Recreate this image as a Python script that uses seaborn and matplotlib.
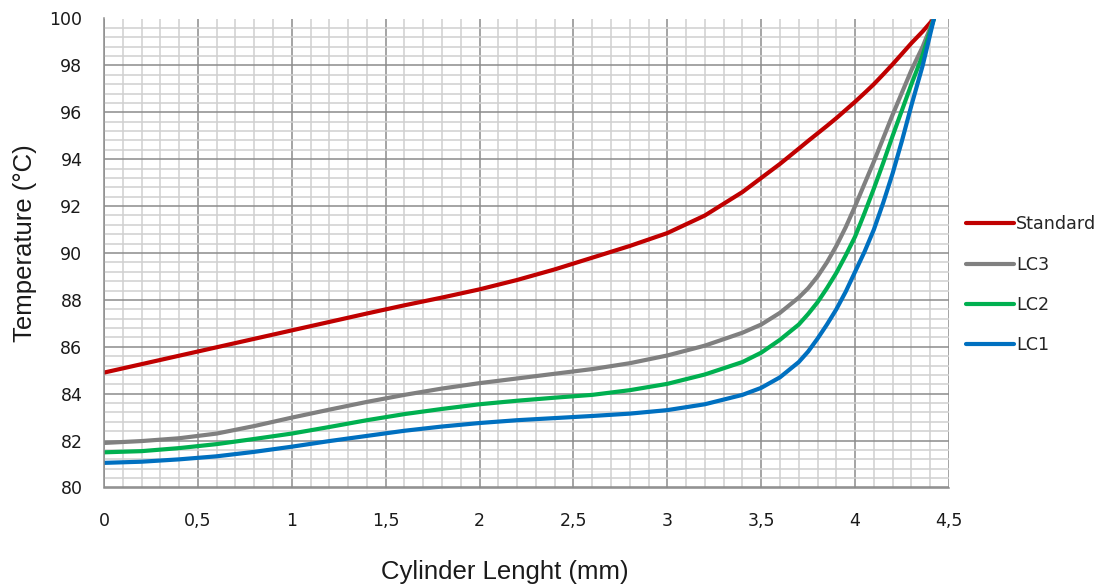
import numpy as np
import pandas as pd
import matplotlib
matplotlib.use("Agg")
import matplotlib.pyplot as plt
from matplotlib.ticker import MultipleLocator, FuncFormatter
import seaborn as sns

# Readings taken off the reference chart
length_mm = [0, 0.2, 0.4, 0.6, 0.8, 1.0, 1.2, 1.4, 1.6, 1.8, 2.0, 2.2, 2.4,
             2.6, 2.8, 3.0, 3.2, 3.4, 3.5, 3.6, 3.7, 3.75, 3.8, 3.85, 3.9,
             3.95, 4.0, 4.05, 4.1, 4.15, 4.2, 4.25, 4.3, 4.36, 4.42]
standard = [84.9, 85.26, 85.62, 85.98, 86.34, 86.7, 87.06, 87.42, 87.77, 88.1,
            88.45, 88.85, 89.3, 89.8, 90.3, 90.85, 91.6, 92.6, 93.2, 93.8,
            94.45, 94.78, 95.1, 95.42, 95.75, 96.1, 96.45, 96.82, 97.2, 97.62,
            98.05, 98.5, 98.95, 99.45, 100.0]
lc3 = [81.9, 81.98, 82.1, 82.3, 82.62, 82.98, 83.32, 83.65, 83.95, 84.22,
       84.45, 84.65, 84.85, 85.05, 85.3, 85.63, 86.05, 86.6, 86.95, 87.45,
       88.1, 88.5, 89.0, 89.6, 90.3, 91.1, 92.0, 92.95, 93.9, 94.9, 95.9,
       96.85, 97.8, 98.8, 100.0]
lc2 = [81.5, 81.55, 81.68, 81.85, 82.07, 82.3, 82.58, 82.87, 83.13, 83.35,
       83.55, 83.7, 83.83, 83.95, 84.15, 84.42, 84.82, 85.35, 85.75, 86.3,
       86.95, 87.4, 87.9, 88.5, 89.15, 89.9, 90.7, 91.7, 92.75, 93.85, 95.0,
       96.1, 97.2, 98.45, 100.0]
lc1 = [81.05, 81.1, 81.2, 81.33, 81.52, 81.74, 81.98, 82.2, 82.42, 82.6,
       82.75, 82.87, 82.96, 83.05, 83.15, 83.3, 83.55, 83.95, 84.25, 84.7,
       85.35, 85.8, 86.35, 86.95, 87.6, 88.35, 89.2, 90.05, 91.0, 92.15,
       93.4, 94.8, 96.3, 98.0, 100.0]

series_names = ["Standard", "LC3", "LC2", "LC1"]
series_colors = ["#C00000", "#808080", "#00B050", "#0070C0"]

# Long-form table for seaborn
df = pd.concat([
    pd.DataFrame({"x": length_mm, "y": vals, "series": name})
    for name, vals in zip(series_names, [standard, lc3, lc2, lc1])
])

sns.set_style("white")
plt.rcParams['font.family'] = ['DejaVu Sans']

fig = plt.figure(figsize=(11.04, 5.86), dpi=100)
ax = fig.add_axes([104 / 1104, 1 - 487.5 / 586, (949 - 104) / 1104, (487.5 - 18.5) / 586])

sns.lineplot(data=df, x="x", y="y", hue="series", hue_order=series_names,
             palette=series_colors, linewidth=3.0, sort=False, ax=ax,
             estimator=None, legend=True)
for line in ax.get_lines():
    line.set_solid_joinstyle("round")
    line.set_solid_capstyle("round")

ax.set_xlim(0, 4.5)
ax.set_ylim(80, 100)
ax.xaxis.set_major_locator(MultipleLocator(0.5))
ax.xaxis.set_minor_locator(MultipleLocator(0.1))
ax.yaxis.set_major_locator(MultipleLocator(2))
ax.yaxis.set_minor_locator(MultipleLocator(0.4))

# Decimal comma on the x axis
ax.xaxis.set_major_formatter(FuncFormatter(lambda v, p: f"{v:g}".replace(".", ",")))

ax.grid(which="major", color="#8c8c8c", linewidth=1.1)
ax.grid(which="minor", color="#d0d0d0", linewidth=1.1)
ax.set_axisbelow(True)

for side in ["top", "right"]:
    ax.spines[side].set_visible(False)
for side in ["left", "bottom"]:
    ax.spines[side].set_color("#8c8c8c")
    ax.spines[side].set_linewidth(1.1)

ax.tick_params(axis="both", which="major", direction="out", length=6,
               width=1.1, color="#8c8c8c", labelsize=12.5, labelcolor="#1a1a1a")
ax.tick_params(axis="x", which="major", pad=12)
ax.tick_params(axis="y", which="major", pad=9.5)
ax.tick_params(which="minor", length=0)

ax.set_xlabel("")
ax.set_ylabel("")
fig.text(505 / 1104, 1 - 572 / 586, "Cylinder Lenght (mm)", ha="center",
         va="center", fontsize=18.5, family="Liberation Sans", color="#1a1a1a")
fig.text(25 / 1104, 1 - 243 / 586, "Temperature (°C)", ha="center",
         va="center", rotation=90, fontsize=18.5, family="Liberation Sans",
         color="#1a1a1a")

handles, labels = ax.get_legend_handles_labels()
leg = ax.legend(handles, labels, loc="center left", bbox_to_anchor=(1.012, 0.432),
                frameon=False, fontsize=12.6, handlelength=2.75, handletextpad=0.1,
                labelspacing=1.28, borderaxespad=0)
for line in leg.get_lines():
    line.set_linewidth(3.0)

fig.savefig("out.png", dpi=100)
plt.close(fig)
